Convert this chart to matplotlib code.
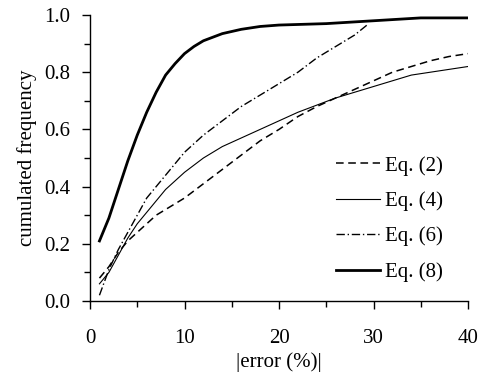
import matplotlib
matplotlib.use("Agg")
import matplotlib.pyplot as plt
from matplotlib.ticker import MultipleLocator, FormatStrFormatter

plt.rcParams['font.family'] = ['Liberation Serif', 'DejaVu Serif']

x2 = [1, 2, 3, 4, 5, 6, 7, 8, 9, 10, 12, 14, 16, 18, 20, 22, 24, 26, 28, 30, 32, 34, 36, 38, 40]
eq2 = [0.08, 0.12, 0.17, 0.21, 0.24, 0.27, 0.30, 0.32, 0.34, 0.36, 0.41, 0.46, 0.51, 0.56, 0.60,
       0.645, 0.68, 0.71, 0.74, 0.77, 0.80, 0.82, 0.84, 0.855, 0.865]

x4 = [1, 2, 3, 4, 5, 6, 7, 8, 9, 10, 12, 14, 16, 18, 20, 22, 24, 26, 28, 30, 32, 34, 36, 38, 40]
eq4 = [0.06, 0.10, 0.16, 0.22, 0.27, 0.31, 0.35, 0.39, 0.42, 0.45, 0.50, 0.54, 0.57, 0.60, 0.63,
       0.66, 0.685, 0.71, 0.73, 0.75, 0.77, 0.79, 0.80, 0.81, 0.82]

x6 = [1, 2, 3, 4, 5, 6, 7, 8, 9, 10, 12, 14, 16, 18, 20, 22, 24, 26, 28, 29.5]
eq6 = [0.02, 0.11, 0.18, 0.24, 0.30, 0.36, 0.40, 0.44, 0.48, 0.52, 0.58, 0.63, 0.68, 0.72, 0.76,
       0.80, 0.85, 0.89, 0.93, 0.97]

x8 = [1, 2, 3, 4, 5, 6, 7, 8, 9, 10, 11, 12, 14, 16, 18, 20, 25, 30, 35, 40]
eq8 = [0.21, 0.29, 0.39, 0.49, 0.58, 0.66, 0.73, 0.79, 0.83, 0.865, 0.89, 0.91, 0.935, 0.95, 0.96,
       0.965, 0.97, 0.98, 0.99, 0.99]

labels = ["Eq. (2)", "Eq. (4)", "Eq. (6)", "Eq. (8)"]

fig = plt.figure(figsize=(4.8, 3.76), dpi=100)
ax = fig.add_axes([0.1875, 0.1995, 0.7875, 0.7605])

ax.plot(x2, eq2, color='black', lw=1.1, linestyle=(0, (5, 3)), label=labels[0])
ax.plot(x4, eq4, color='black', lw=0.8, linestyle='-', label=labels[1])
ax.plot(x6, eq6, color='black', lw=1.0, linestyle=(0, (6, 2, 1, 2)), label=labels[2])
ax.plot(x8, eq8, color='black', lw=2.0, linestyle='-', label=labels[3])

ax.set_xlim(0, 40)
ax.set_ylim(0, 1.0)
ax.xaxis.set_major_locator(MultipleLocator(10))
ax.xaxis.set_minor_locator(MultipleLocator(5))
ax.yaxis.set_major_locator(MultipleLocator(0.2))
ax.yaxis.set_minor_locator(MultipleLocator(0.1))
ax.yaxis.set_major_formatter(FormatStrFormatter('%.1f'))

for s in ['top', 'right']:
    ax.spines[s].set_visible(False)
for s in ['left', 'bottom']:
    ax.spines[s].set_linewidth(1.0)

ax.tick_params(axis='both', which='major', direction='out', length=6, width=1, labelsize=15)
ax.tick_params(axis='both', which='minor', direction='out', length=4, width=1)
ax.tick_params(axis='x', which='major', pad=14)
ax.tick_params(axis='y', which='major', pad=8)

ax.set_xlabel("|error (%)|", fontsize=15, labelpad=3)
ax.set_ylabel("cumulated frequency", fontsize=15, labelpad=5)

leg = ax.legend(loc='lower right', bbox_to_anchor=(0.934, 0.067), frameon=False, fontsize=15,
                handlelength=2.1, labelspacing=0.75, handletextpad=0.25, borderaxespad=0,
                borderpad=0)

fig.savefig("out.png", dpi=100)
